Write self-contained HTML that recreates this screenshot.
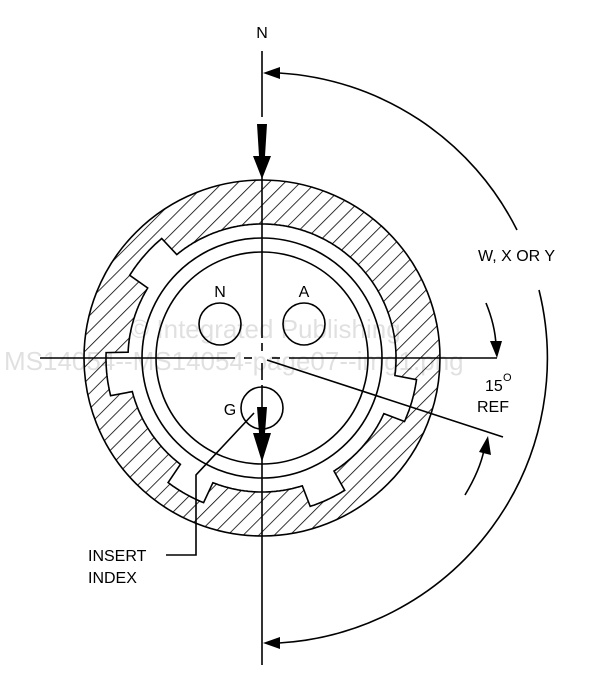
<!DOCTYPE html>
<html><head><style>
html,body{margin:0;padding:0;background:#fff;width:600px;height:693px;overflow:hidden}
svg{display:block}
text{font-family:"Liberation Sans",Arial,sans-serif;fill:#000}
</style></head><body>
<svg width="600" height="693" viewBox="0 0 600 693" xmlns="http://www.w3.org/2000/svg">
<defs>
<pattern id="h" patternUnits="userSpaceOnUse" width="11" height="11" patternTransform="rotate(45)">
<line x1="0" y1="0" x2="0" y2="11" stroke="#000" stroke-width="1.6"/>
</pattern>
</defs>

<circle cx="262" cy="358" r="178" fill="url(#h)" stroke="#000" stroke-width="1.6"/>
<path id="ins" d="" fill="#fff" stroke="#000" stroke-width="1.6"/>
<circle cx="262" cy="358" r="120" fill="none" stroke="#000" stroke-width="1.6"/>
<circle cx="262" cy="358" r="106" fill="none" stroke="#000" stroke-width="1.6"/>
<circle cx="220" cy="324" r="21" fill="none" stroke="#000" stroke-width="1.6"/>
<circle cx="304" cy="324" r="21" fill="none" stroke="#000" stroke-width="1.6"/>
<circle cx="262" cy="408" r="21" fill="none" stroke="#000" stroke-width="1.6"/>
<text x="220" y="297" font-size="16" text-anchor="middle">N</text>
<text x="304" y="297" font-size="16" text-anchor="middle">A</text>
<text x="230" y="415" font-size="16" text-anchor="middle">G</text>

<!-- axes -->
<line x1="262" y1="51" x2="262" y2="117" stroke="#000" stroke-width="1.6"/>
<line x1="262" y1="170" x2="262" y2="338" stroke="#000" stroke-width="1.6"/>
<line x1="262" y1="343" x2="262" y2="351" stroke="#000" stroke-width="1.6"/>
<line x1="262" y1="363" x2="262" y2="380" stroke="#000" stroke-width="1.6"/>
<line x1="262" y1="385" x2="262" y2="665" stroke="#000" stroke-width="1.6"/>
<line x1="40" y1="358" x2="235" y2="358" stroke="#000" stroke-width="1.6"/>
<line x1="244" y1="358" x2="252" y2="358" stroke="#000" stroke-width="1.6"/>
<line x1="272" y1="358" x2="280" y2="358" stroke="#000" stroke-width="1.6"/>
<line x1="289" y1="358" x2="497" y2="358" stroke="#000" stroke-width="1.6"/>
<line x1="267" y1="360" x2="503" y2="437" stroke="#000" stroke-width="1.6"/>

<!-- thick arrows -->
<polygon points="257,124 267,124 265,156 271,156 262,179 253,156 259,156" fill="#000"/>
<polygon points="257,407 267,407 265,433 271,433 262,462 253,433 259,433" fill="#000"/>

<!-- big arc -->
<path d="M279,73 A285,285 0 0 1 517,230" fill="none" stroke="#000" stroke-width="1.6"/>
<path d="M539,290 A285,285 0 0 1 279,643" fill="none" stroke="#000" stroke-width="1.6"/>
<polygon points="263,73 280,67 280,79" fill="#000"/>
<polygon points="263,643 280,637 280,649" fill="#000"/>

<!-- 15 deg arcs -->
<path d="M486,303 Q495,325 496,345" fill="none" stroke="#000" stroke-width="1.6"/>
<polygon points="497,358 490,341 502,341" fill="#000"/>
<path d="M465,495 Q480,470 484,450" fill="none" stroke="#000" stroke-width="1.6"/>
<polygon points="488,436 491,455 479,452" fill="#000"/>

<!-- leader -->
<polyline points="254,413 196,475 196,555 166,555" fill="none" stroke="#000" stroke-width="1.6"/>

<text x="262" y="38" font-size="16" text-anchor="middle">N</text>
<text x="478" y="261" font-size="16">W, X OR Y</text>
<text x="485" y="391" font-size="16">15</text>
<text x="503" y="381" font-size="11">O</text>
<text x="477" y="412" font-size="16">REF</text>
<text x="88" y="561" font-size="16">INSERT</text>
<text x="88" y="583" font-size="16">INDEX</text>

<!-- watermark -->
<text x="130" y="338" font-size="26" style="fill:#000;fill-opacity:0.12">© Integrated Publishing</text>
<text x="4" y="370" font-size="26" style="fill:#000;fill-opacity:0.12">MS14054--MS14054-page07--img1.png</text>
</svg>
<script>
(function(){
var cx=262,cy=358,R=134,T=156;
var tabs=[[212,230],[166,182],[112,127],[58,72],[8,24]];
var d="",first=true;
function pt(a,r){var t=a*Math.PI/180;return (cx+r*Math.cos(t)).toFixed(1)+","+(cy+r*Math.sin(t)).toFixed(1);}
for(var s=0;s<=720;s++){
 var ang=s*0.5;
 var inTab=false;
 for(var i=0;i<tabs.length;i++){if(ang>=tabs[i][0]&&ang<=tabs[i][1])inTab=true;}
 var r=inTab?T:R;
 d+=(first?"M":"L")+pt(ang,r);first=false;
}
d+="Z";
document.getElementById("ins").setAttribute("d",d);
})();
</script>
</body></html>
